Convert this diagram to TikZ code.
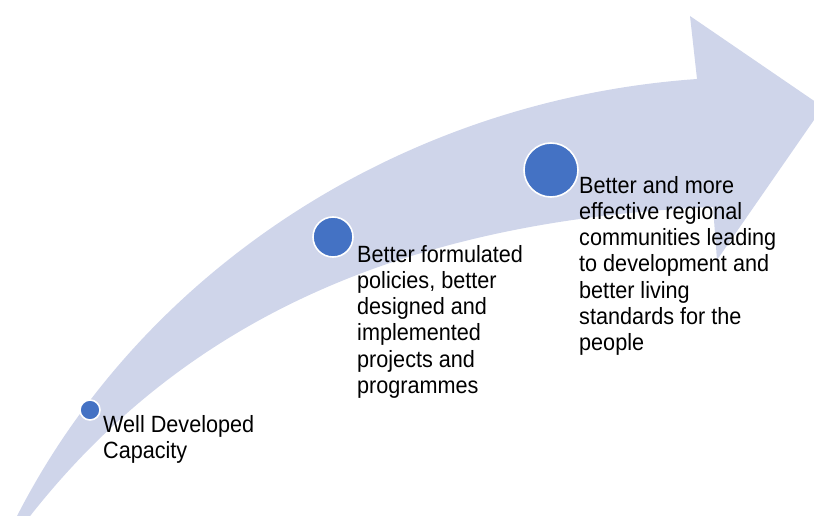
\documentclass[tikz,border=0pt]{standalone}
\usepackage{fontspec}
\setmainfont[FakeStretch=0.92]{Liberation Sans}
\definecolor{band}{HTML}{CFD5EA}
\definecolor{dot}{HTML}{4472C4}
\tikzset{
  dotnode/.style={circle, fill=dot, draw=white, line width=1.6pt, inner sep=0pt},
  label text/.style={anchor=north west, inner sep=0pt, align=left, text=black,
    font=\fontsize{23.5}{26.2}\selectfont}
}
\begin{document}
\begin{tikzpicture}[x=1pt,y=-1pt]
\useasboundingbox (0,0) rectangle (814,516);
\clip (0,0) rectangle (814,516);
\fill[band] (15,520) .. controls (140,272) and (400,100) .. (697,79)
  -- (690,16) -- (823,107) -- (717,260) -- (713,207)
  .. controls (420,220) and (190,310) .. (27,520) -- cycle;
\node[dotnode, minimum size=20pt] (c1) at (90,410) {};
\node[dotnode, minimum size=40pt] (c2) at (333,237) {};
\node[dotnode, minimum size=54pt] (c3) at (551,170) {};
\node[label text] (t1) at (103,415) {Well Developed\\Capacity};
\node[label text] (t2) at (357,245) {Better formulated\\policies, better\\designed and\\implemented\\projects and\\programmes};
\node[label text] (t3) at (579,176) {Better and more\\effective regional\\communities leading\\to development and\\better living\\standards for the\\people};
\end{tikzpicture}
\end{document}
